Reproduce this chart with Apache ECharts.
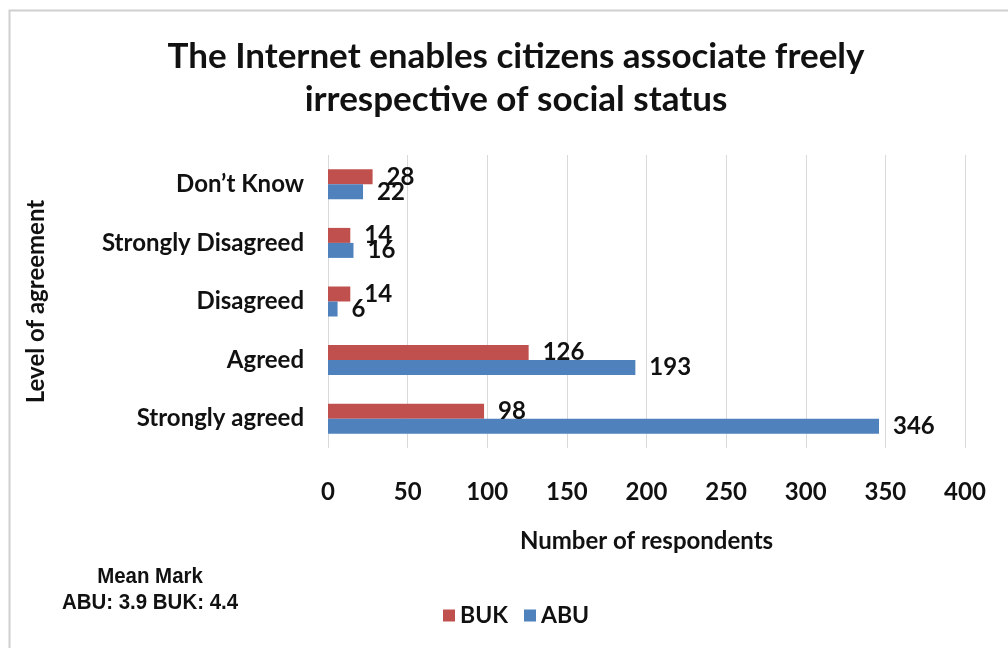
<!DOCTYPE html>
<html>
<head>
<meta charset="utf-8">
<script src="https://cdn.jsdelivr.net/npm/echarts@6/dist/echarts.min.js"></script>
<style>
html,body{margin:0;padding:0;background:#fff;}
#chart{width:1008px;height:648px;}
</style>
</head>
<body>
<div id="chart"></div>
<script>
// Response levels, listed bottom to top on the category axis
const categories = ['Strongly agreed', 'Agreed', 'Disagreed', 'Strongly Disagreed', 'Don\u2019t Know'];
// Respondent counts per university
const bukValues = [98, 126, 14, 14, 28];
const abuValues = [346, 193, 6, 16, 22];
const xTicks = [0, 50, 100, 150, 200, 250, 300, 350, 400];

const FONT = 'Lato, "Open Sans", sans-serif';
const TEXT = '#111';

const chart = echarts.init(document.getElementById('chart'));
chart.setOption({
  backgroundColor: '#ffffff',
  animation: false,
  title: {
    text: 'The Internet enables citizens associate freely\nirrespective of social status',
    left: 511,
    textAlign: 'center',
    top: 30,
    textStyle: { fontFamily: FONT, fontWeight: 'bold', fontSize: 35, lineHeight: 43, color: TEXT }
  },
  legend: {
    data: ['BUK', 'ABU'],
    left: 438,
    top: 599,
    itemWidth: 12,
    itemHeight: 12,
    itemGap: 16,
    icon: 'rect',
    textStyle: { fontFamily: FONT, fontWeight: 'bold', fontSize: 23, color: TEXT }
  },
  grid: { left: 328, right: 43, top: 155, bottom: 200 },
  xAxis: {
    type: 'value',
    min: xTicks[0],
    max: xTicks[xTicks.length - 1],
    interval: 50,
    name: 'Number of respondents',
    nameLocation: 'middle',
    nameGap: 81,
    nameTextStyle: { fontFamily: FONT, fontWeight: 'bold', fontSize: 24, color: TEXT },
    axisLine: { show: false },
    axisTick: { show: false },
    axisLabel: { fontFamily: FONT, fontWeight: 'bold', fontSize: 24, color: TEXT, margin: 32 },
    splitLine: { show: true, lineStyle: { color: '#d9d9d9', width: 1 } }
  },
  yAxis: {
    type: 'category',
    data: categories,
    name: 'Level of agreement',
    nameLocation: 'middle',
    nameGap: 280,
    nameRotate: 90,
    nameTextStyle: { fontFamily: FONT, fontWeight: 'bold', fontSize: 24, color: TEXT },
    axisLine: { show: false },
    axisTick: { show: false },
    axisLabel: { fontFamily: FONT, fontWeight: 'bold', fontSize: 24, color: TEXT, margin: 24 }
  },
  series: [
    {
      name: 'BUK',
      type: 'bar',
      data: bukValues,
      barWidth: 15,
      barGap: '0%',
      itemStyle: { color: '#C0504D' },
      label: { show: true, position: 'right', distance: 14, fontFamily: FONT, fontWeight: 'bold', fontSize: 24, color: TEXT }
    },
    {
      name: 'ABU',
      type: 'bar',
      data: abuValues,
      barWidth: 15,
      barGap: '0%',
      itemStyle: { color: '#4F81BD' },
      label: { show: true, position: 'right', distance: 14, fontFamily: FONT, fontWeight: 'bold', fontSize: 24, color: TEXT }
    }
  ],
  graphic: [
    {
      type: 'rect',
      shape: { x: 9.5, y: 10.5, width: 1100, height: 700 },
      style: { fill: 'none', stroke: '#d0d0d0', lineWidth: 2 },
      silent: true
    },
    {
      type: 'text',
      x: 150,
      y: 564,
      scaleX: 0.93,
      style: {
        text: 'Mean Mark\nABU: 3.9 BUK: 4.4',
        textAlign: 'center',
        font: 'bold 22px "Liberation Sans", Arial, sans-serif',
        lineHeight: 26,
        fill: TEXT
      }
    }
  ]
});
</script>
</body>
</html>
